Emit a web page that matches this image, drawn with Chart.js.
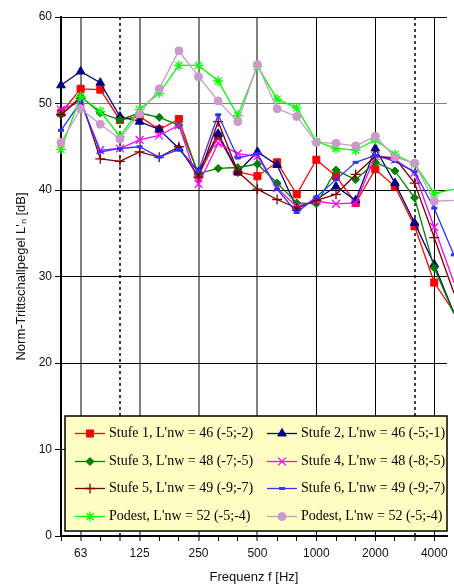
<!DOCTYPE html>
<html>
<head>
<meta charset="utf-8">
<script src="https://cdn.jsdelivr.net/npm/chart.js"></script>
<style>
  html, body { margin: 0; padding: 0; background: #fff; overflow: hidden; }
  #wrap { width: 454px; height: 586px; }
</style>
</head>
<body>
<div id="wrap"><canvas id="chart" width="454" height="586"></canvas></div>
<script>
// Terzbänder 50 Hz ... 5000 Hz
const frequencies = ['50', '63', '80', '100', '125', '160', '200', '250', '315', '400', '500',
  '630', '800', '1000', '1250', '1600', '2000', '2500', '3150', '4000', '5000'];
const tickLabels = ['63', '125', '250', '500', '1000', '2000', '4000'];

const stufe1 = [48.9, 51.7, 51.6, 48.1, 48.5, 47.0, 48.2, 41.7, 46.2, 42.1, 41.6, 43.2, 39.5, 43.5, 41.6, 38.5, 42.4, 40.4, 35.8, 29.3, 25.9];
const stufe2 = [52.1, 53.7, 52.4, 48.5, 47.9, 47.0, 44.8, 42.1, 46.5, 42.1, 44.4, 42.9, 37.9, 38.9, 40.4, 38.8, 44.8, 40.8, 36.2, 31.4, 25.8];
const stufe3 = [48.7, 50.8, 48.9, 48.1, 48.9, 48.4, 47.5, 41.9, 42.5, 42.6, 43.0, 40.8, 38.5, 38.4, 42.3, 41.2, 43.2, 42.2, 39.1, 31.0, 25.7];
const stufe4 = [49.3, 50.2, 44.6, 44.8, 45.8, 46.3, 47.5, 40.7, 45.4, 44.2, 43.9, 40.2, 38.1, 38.7, 38.4, 38.5, 43.9, 43.5, 42.0, 35.7, 29.3];
const stufe5 = [48.7, 50.6, 43.6, 43.3, 44.4, 43.8, 45.0, 41.5, 47.9, 42.1, 40.1, 38.9, 37.9, 38.8, 39.5, 41.8, 43.9, 43.7, 40.8, 34.5, 28.1];
const stufe6 = [46.9, 50.2, 44.4, 44.8, 45.0, 43.8, 44.7, 42.2, 48.7, 43.7, 44.2, 40.1, 37.4, 39.2, 41.2, 43.2, 44.0, 43.3, 42.1, 37.9, 32.5];
const podestA = [44.7, 50.8, 49.1, 46.2, 49.3, 51.2, 54.4, 54.4, 52.6, 48.6, 54.3, 50.5, 49.5, 45.6, 44.8, 44.6, 45.8, 44.1, 43.0, 39.6, 40.1];
const podestB = [45.5, 49.4, 47.6, 45.9, 48.8, 51.7, 56.1, 53.1, 50.3, 47.9, 54.5, 49.4, 48.5, 45.5, 45.4, 45.1, 46.2, 43.8, 43.1, 38.7, 38.8];

const legendLabels = [
  'Stufe 1, L\'nw = 46 (-5;-2)', 'Stufe 2, L\'nw = 46 (-5;-1)',
  'Stufe 3, L\'nw = 48 (-7;-5)', 'Stufe 4, L\'nw = 48 (-8;-5)',
  'Stufe 5, L\'nw = 49 (-9;-7)', 'Stufe 6, L\'nw = 49 (-9;-7)',
  'Podest, L\'nw = 52 (-5;-4)', 'Podest, L\'nw = 52 (-5;-4)'
];

const toPoints = values => values.map((v, i) => ({ x: i, y: v }));

function series(label, values, color, style, radius, extra) {
  return Object.assign({
    label,
    data: toPoints(values),
    borderColor: color,
    backgroundColor: color,
    borderWidth: 1.3,
    pointStyle: style,
    pointRadius: radius,
    pointBorderWidth: 1,
    pointBackgroundColor: color,
    pointBorderColor: color,
    tension: 0,
    clip: false
  }, extra || {});
}

const datasets = [
  series(legendLabels[0], stufe1, '#ff0000', 'rect', 5),
  series(legendLabels[1], stufe2, '#000080', 'triangle', 5),
  series(legendLabels[2], stufe3, '#008000', 'rectRot', 4),
  series(legendLabels[3], stufe4, '#ff00ff', 'crossRot', 5.5, { pointBorderWidth: 1.3 }),
  series(legendLabels[4], stufe5, '#800000', 'cross', 5, { pointBorderWidth: 1.3 }),
  series(legendLabels[5], stufe6, '#3333ff', 'line', 3, { pointBorderWidth: 3 }),
  series(legendLabels[6], podestA, '#00ff00', 'star', 5, { pointBorderWidth: 1.3 }),
  series(legendLabels[7], podestB, '#cc99cc', 'circle', 4)
];
datasets.forEach((ds, i) => { ds.order = -i; });

// Legende im Diagramm (wie Excel)
const legendBox = {
  id: 'legendBox',
  afterDraw(chart) {
    const { ctx, chartArea } = chart;
    const x0 = chartArea.left + 4, y0 = 416, w = 382, h = 115;
    ctx.save();
    ctx.fillStyle = '#ffffc4';
    ctx.fillRect(x0, y0, w, h);
    ctx.lineWidth = 1.5;
    ctx.strokeStyle = '#000';
    ctx.strokeRect(x0, y0, w, h);
    ctx.font = '14px "Liberation Serif", "Times New Roman", serif';
    ctx.textBaseline = 'middle';
    chart.data.datasets.forEach((ds, i) => {
      const col = i % 2, row = Math.floor(i / 2);
      const lx = x0 + 10 + col * 192;
      const ly = Math.round(y0 + 17 + row * 27.7) + 0.5;
      ctx.strokeStyle = ds.borderColor;
      ctx.lineWidth = ds.borderWidth;
      ctx.beginPath();
      ctx.moveTo(lx, ly);
      ctx.lineTo(lx + 30, ly);
      ctx.stroke();
      ctx.fillStyle = ds.pointBackgroundColor;
      ctx.strokeStyle = ds.pointBorderColor;
      ctx.lineWidth = ds.pointBorderWidth;
      Chart.helpers.drawPoint(ctx, {
        pointStyle: ds.pointStyle, radius: ds.pointRadius,
        borderWidth: ds.pointBorderWidth, rotation: 0
      }, lx + 15, ly);
      ctx.fillStyle = '#000';
      ctx.fillText(ds.label, lx + 34, ly);
    });
    ctx.restore();
  }
};

const sans = '"Liberation Sans", Arial, sans-serif';

function xGrid(value) {
  const f = frequencies[value];
  if (f === '100' || f === '3150') return { color: '#404040', width: 2, dash: [3, 3] };
  if (['63', '125', '250', '500'].includes(f)) return { color: '#808080', width: 2, dash: [] };
  if (['1000', '2000', '4000'].includes(f)) return { color: '#000000', width: 1, dash: [] };
  return { color: 'rgba(0,0,0,0)', width: 1, dash: [] };
}

new Chart(document.getElementById('chart'), {
  type: 'line',
  data: { datasets },
  plugins: [legendBox],
  options: {
    responsive: false,
    animation: false,
    layout: { padding: { top: 17, right: 0, bottom: 0, left: 0 } },
    plugins: { legend: { display: false }, tooltip: { enabled: false } },
    scales: {
      x: {
        type: 'linear',
        min: 0,
        max: 19.65,
        afterBuildTicks: scale => { scale.ticks = frequencies.slice(0, 20).map((f, i) => ({ value: i })); },
        afterFit: scale => { scale.height = 50; scale.paddingLeft = 0; scale.paddingRight = 0; },
        ticks: {
          autoSkip: false,
          maxRotation: 0,
          padding: 5,
          color: '#111',
          font: { family: sans, size: 12 },
          callback: value => (tickLabels.includes(frequencies[value]) ? frequencies[value] : '')
        },
        grid: {
          color: c => (c.tick ? xGrid(c.tick.value).color : '#000'),
          lineWidth: c => (c.tick ? xGrid(c.tick.value).width : 1),
          tickColor: '#000',
          tickWidth: 1,
          tickLength: 5
        },
        border: {
          color: '#000',
          width: 2,
          dash: c => (c.tick ? xGrid(c.tick.value).dash : [])
        },
        title: {
          display: true,
          text: 'Frequenz f [Hz]',
          color: '#111',
          font: { family: sans, size: 13 },
          padding: { top: 0, bottom: 1 }
        }
      },
      y: {
        min: 0,
        max: 60,
        afterFit: scale => { scale.width = 61; scale.paddingTop = 0; scale.paddingBottom = 0; },
        ticks: {
          stepSize: 10,
          padding: 3,
          color: '#111',
          font: { family: sans, size: 12 }
        },
        grid: {
          color: c => (c.tick && c.tick.value === 50 ? '#808080' : '#000'),
          lineWidth: 1,
          tickColor: '#000',
          tickLength: 6
        },
        border: { color: '#000', width: 2 },
        title: {
          display: true,
          text: 'Norm-Trittschallpegel L\'ₙ [dB]',
          color: '#111',
          font: { family: sans, size: 13 },
          padding: { top: 14, bottom: 0 }
        }
      }
    }
  }
});
</script>
</body>
</html>
